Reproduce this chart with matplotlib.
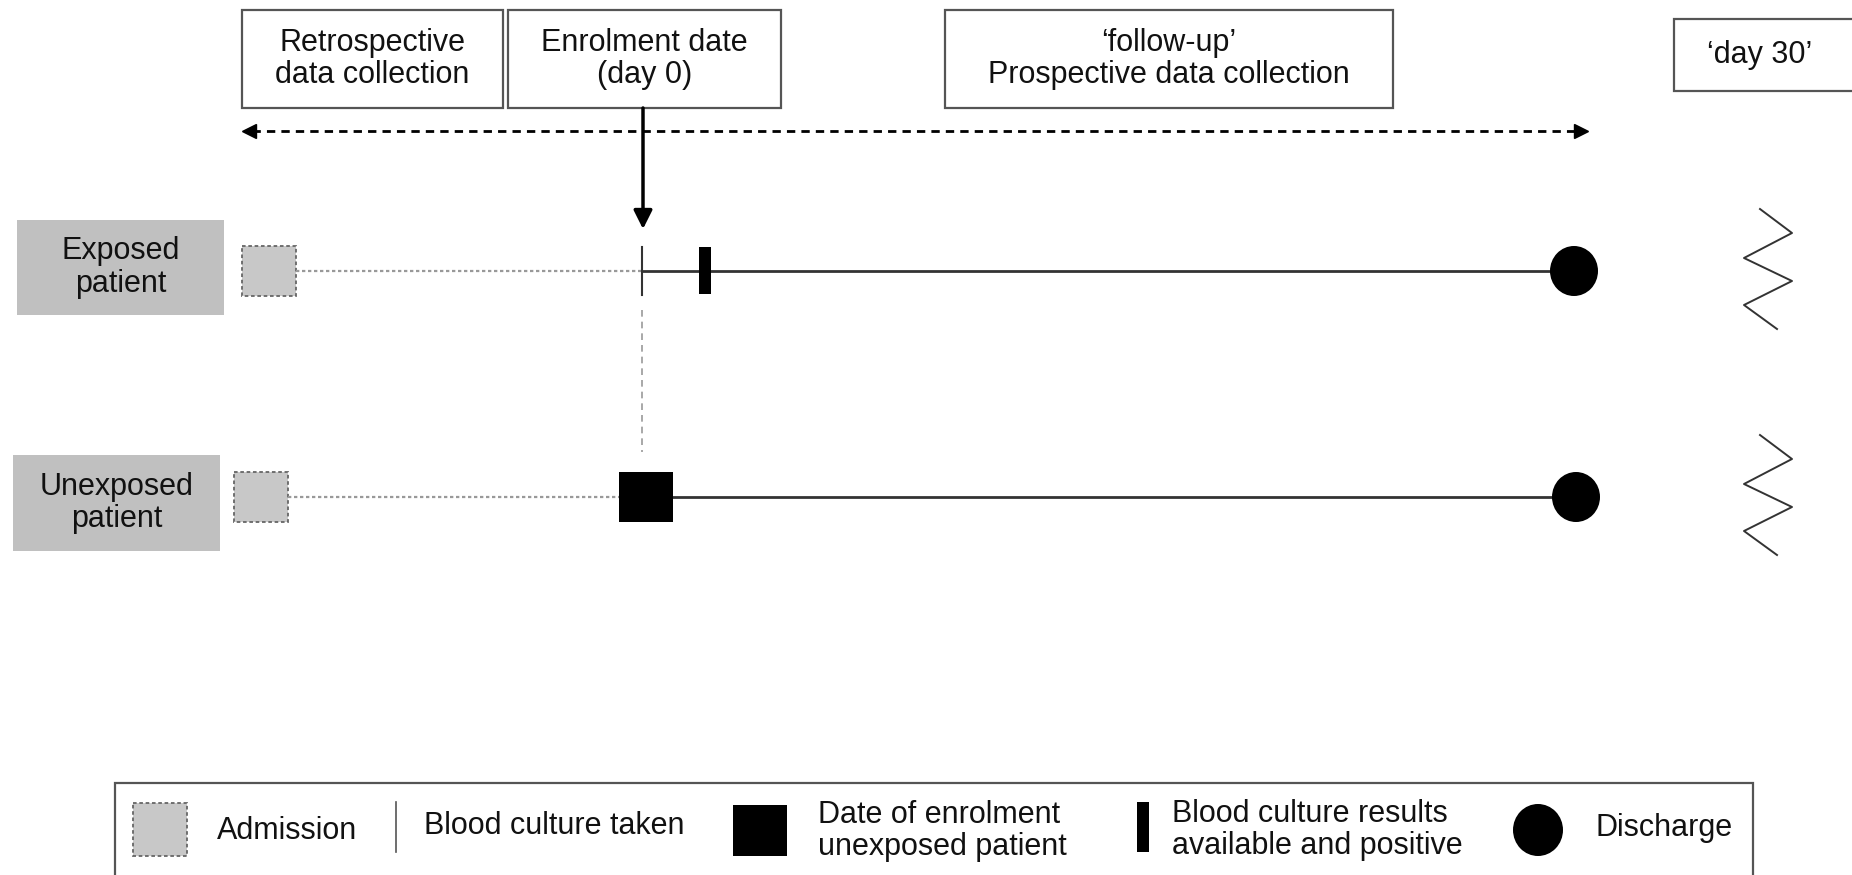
import matplotlib
matplotlib.use("Agg")
import matplotlib.pyplot as plt
from matplotlib.patches import Rectangle, Ellipse

plt.rcParams['font.family'] = ['Liberation Sans', 'DejaVu Sans']

# ---- data (timeline positions, in figure pixels) ----
patients = ['Exposed\npatient', 'Unexposed\npatient']
row_y = [271, 497]
admission_x = [269, 261]
blood_culture_x = [642, None]
result_x = [705, None]
enrolment_x = [None, 646]
discharge_x = [1574, 1576]

phase_labels = ['Retrospective\ndata collection', 'Enrolment date\n(day 0)',
                '\u2018follow-up\u2019\nProspective data collection', '\u2018day 30\u2019']
legend_labels = ['Admission', 'Blood culture taken', 'Date of enrolment\nunexposed patient',
                 'Blood culture results\navailable and positive', 'Discharge']

FS = 22
TXT = '#111111'
W, H = 1852, 875

fig = plt.figure(figsize=(W / 100, H / 100), dpi=100)
ax = fig.add_axes([0, 0, 1, 1])
ax.set_xlim(0, W)
ax.set_ylim(H, 0)
ax.axis('off')

# ---- top boxes ----
boxes = [(242, 10, 261, 98), (508, 10, 273, 98), (945, 10, 448, 98), (1674, 19, 190, 72)]
for (x, y, w, h), lab in zip(boxes, phase_labels):
    ax.add_patch(Rectangle((x, y), w, h, facecolor='white', edgecolor='#555555', lw=1.6))
    cx = x + w / 2 if x < 1600 else 1760
    ax.text(cx, y + h / 2, lab, ha='center', va='center', fontsize=FS, color=TXT,
            linespacing=1.1)

# ---- dashed double arrow ----
ax.plot([252, 1578], [131, 131], color='black', lw=2, linestyle=(0, (3, 2.2)))
ax.plot([249], [131], marker='<', color='black', markersize=10)
ax.plot([1581], [131], marker='>', color='black', markersize=10)

# ---- enrolment arrow ----
ax.annotate('', xy=(643, 229), xytext=(643, 108),
            arrowprops=dict(arrowstyle='-|>', lw=2.5, color='black', mutation_scale=28,
                            shrinkA=0, shrinkB=0))

# dashed vertical connector
ax.plot([642, 642], [310, 452], color='#999999', lw=1.2, linestyle=(0, (4, 3)))

# ---- patient rows ----
label_boxes = [(17, 220, 207, 95), (13, 455, 207, 96)]
for i, (lab, y) in enumerate(zip(patients, row_y)):
    bx, by, bw, bh = label_boxes[i]
    ax.add_patch(Rectangle((bx, by), bw, bh, facecolor='#c0c0c0', edgecolor='none'))
    ax.text(bx + bw / 2, by + bh / 2, lab, ha='center', va='center', fontsize=FS,
            color=TXT, linespacing=1.1)
    # admission square
    ax.add_patch(Rectangle((admission_x[i] - 27, y - 25), 54, 50, facecolor='#c8c8c8',
                           edgecolor='#666666', lw=1.3, linestyle=(0, (2, 1.5))))
    # start of solid line
    start = blood_culture_x[i] if blood_culture_x[i] is not None else enrolment_x[i]
    ax.plot([admission_x[i] + 27, start], [y, y], color='#999999', lw=1.6,
            linestyle=(0, (1.5, 1.2)))
    ax.plot([start, discharge_x[i] - 24], [y, y], color='#333333', lw=2, zorder=1)
    if blood_culture_x[i] is not None:
        ax.plot([blood_culture_x[i]] * 2, [y - 24, y + 24], color='#333333', lw=1.5)
    if result_x[i] is not None:
        ax.add_patch(Rectangle((result_x[i] - 6, y - 24), 12, 47, facecolor='black',
                               edgecolor='none', zorder=3))
    if enrolment_x[i] is not None:
        ax.add_patch(Rectangle((enrolment_x[i] - 27, y - 25), 54, 50, facecolor='black',
                               edgecolor='none', zorder=3))
    ax.add_patch(Ellipse((discharge_x[i], y), 48, 50, facecolor='black',
                         edgecolor='none', zorder=3))

# ---- zigzags (break marks at day 30) ----
zig_dx = [1760, 1792, 1744, 1792, 1744, 1777]
zig_dy = [-62, -38, -13, 10, 34, 58]
for y in row_y:
    ax.plot(zig_dx, [y + d for d in zig_dy], color='#333333', lw=1.4)

# ---- legend ----
ax.add_patch(Rectangle((115, 783), 1638, 120, facecolor='white', edgecolor='#555555',
                       lw=1.6))
ax.add_patch(Rectangle((133, 803), 54, 53, facecolor='#c8c8c8', edgecolor='#666666',
                       lw=1.3, linestyle=(0, (2, 1.5))))
ax.text(217, 831, legend_labels[0], ha='left', va='center', fontsize=FS, color=TXT)
ax.plot([396, 396], [802, 852], color='#555555', lw=1.2)
ax.text(424, 826, legend_labels[1], ha='left', va='center', fontsize=FS, color=TXT)
ax.add_patch(Rectangle((733, 805), 54, 51, facecolor='black', edgecolor='none'))
ax.text(818, 831, legend_labels[2], ha='left', va='center', fontsize=FS, color=TXT,
        linespacing=1.05)
ax.add_patch(Rectangle((1137, 802), 12, 50, facecolor='black', edgecolor='none'))
ax.text(1172, 830, legend_labels[3], ha='left', va='center', fontsize=FS, color=TXT,
        linespacing=1.05)
ax.add_patch(Ellipse((1538, 830), 50, 52, facecolor='black', edgecolor='none'))
ax.text(1595, 828, legend_labels[4], ha='left', va='center', fontsize=FS, color=TXT)

fig.savefig('out.png', dpi=100)
